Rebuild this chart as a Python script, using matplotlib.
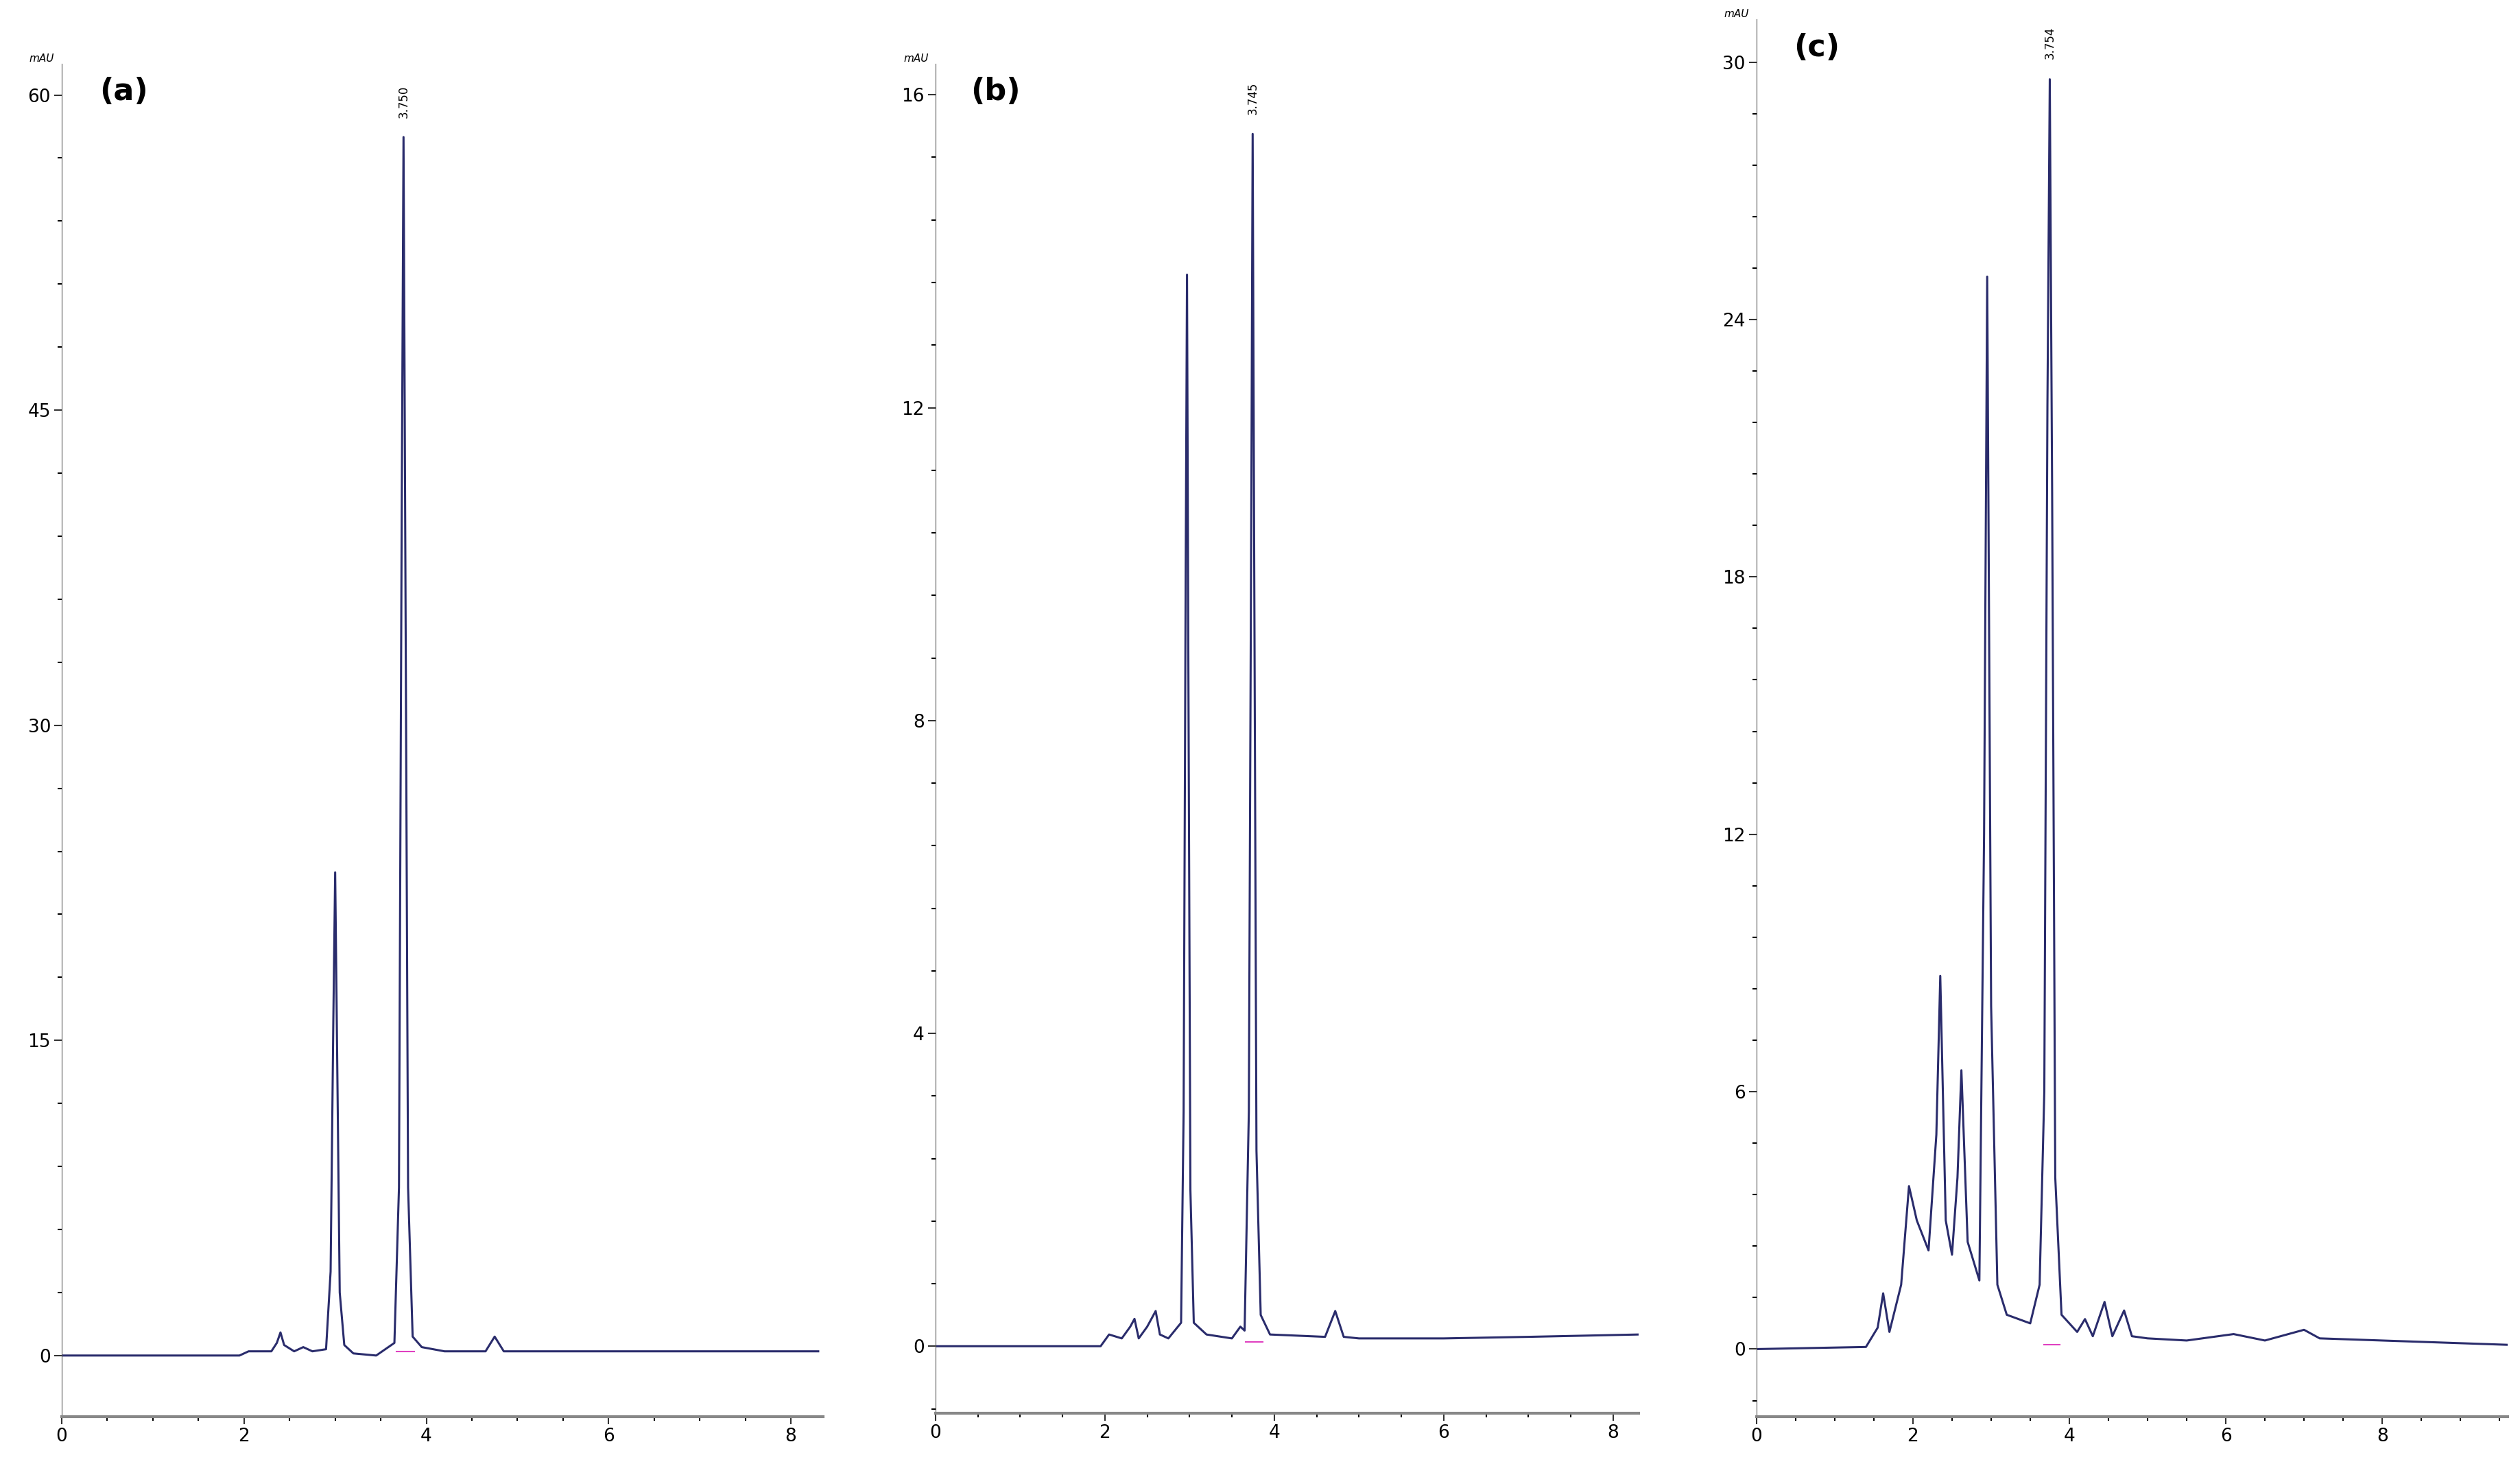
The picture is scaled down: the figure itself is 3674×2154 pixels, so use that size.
import matplotlib.pyplot as plt
from matplotlib.ticker import MultipleLocator

# panel (a)
t_a = [0, 1.95, 2.05, 2.3, 2.36, 2.4, 2.44, 2.55, 2.65, 2.75, 2.9, 2.95, 2.98, 3.0, 3.02, 3.05, 3.1,
       3.2, 3.45, 3.65, 3.7, 3.73, 3.75, 3.77, 3.8, 3.85, 3.95, 4.2, 4.65, 4.75, 4.85, 5.0, 8.3]
y_a = [0, 0, 0.2, 0.2, 0.6, 1.1, 0.5, 0.2, 0.4, 0.2, 0.3, 4, 16, 23, 15, 3, 0.5,
       0.1, 0, 0.6, 8, 40, 58, 38, 8, 0.9, 0.4, 0.2, 0.2, 0.9, 0.2, 0.2, 0.2]
# panel (b)
t_b = [0, 1.95, 2.05, 2.2, 2.3, 2.35, 2.4, 2.5, 2.6, 2.65, 2.75, 2.9, 2.93, 2.955, 2.97, 2.985, 3.01,
       3.05, 3.2, 3.5, 3.6, 3.65, 3.7, 3.73, 3.745, 3.76, 3.79, 3.84, 3.95, 4.6, 4.72, 4.82, 5.0, 6.0,
       7.0, 8.3]
y_b = [0, 0, 0.15, 0.1, 0.25, 0.35, 0.1, 0.25, 0.45, 0.15, 0.1, 0.3, 3, 10, 13.7, 9, 2,
       0.3, 0.15, 0.1, 0.25, 0.2, 3, 11, 15.5, 11, 2.5, 0.4, 0.15, 0.12, 0.45, 0.12, 0.1, 0.1,
       0.12, 0.15]
# panel (c)
t_c = [0, 1.4, 1.55, 1.62, 1.7, 1.85, 1.95, 2.05, 2.2, 2.3, 2.35, 2.42, 2.5, 2.57, 2.62, 2.7, 2.85,
       2.91, 2.95, 3.0, 3.08, 3.2, 3.35, 3.5, 3.62, 3.68, 3.72, 3.75, 3.78, 3.82, 3.9, 4.1, 4.2, 4.3,
       4.45, 4.55, 4.7, 4.8, 5.0, 5.5, 6.1, 6.5, 7.0, 7.2, 8.0, 9.6]
y_c = [0, 0.05, 0.5, 1.3, 0.4, 1.5, 3.8, 3.0, 2.3, 5, 8.7, 3, 2.2, 4, 6.5, 2.5, 1.6,
       12, 25, 8, 1.5, 0.8, 0.7, 0.6, 1.5, 6, 22, 29.6, 20, 4, 0.8, 0.4, 0.7, 0.3,
       1.1, 0.3, 0.9, 0.3, 0.25, 0.2, 0.35, 0.2, 0.45, 0.25, 0.2, 0.1]

panels = [
    dict(t=t_a, y=y_a, lab='(a)', rt='3.750', peak=3.75, ymin=-2.9, ymax=61.5, xmax=8.35,
         yt=[0, 15, 30, 45, 60], ymin_step=3, pos=[0.0245, 0.041, 0.302, 0.916]),
    dict(t=t_b, y=y_b, lab='(b)', rt='3.745', peak=3.745, ymin=-0.86, ymax=16.4, xmax=8.3,
         yt=[0, 4, 8, 12, 16], ymin_step=0.8, pos=[0.3712, 0.043, 0.279, 0.914]),
    dict(t=t_c, y=y_c, lab='(c)', rt='3.754', peak=3.754, ymin=-1.57, ymax=31.0, xmax=9.6,
         yt=[0, 6, 12, 18, 24, 30], ymin_step=1.2, pos=[0.697, 0.041, 0.298, 0.946]),
]

fig = plt.figure(figsize=(36.74, 21.54), dpi=100)
for p in panels:
    ax = fig.add_axes(p['pos'])
    ax.plot(p['t'], p['y'], color='#2a2c6c', lw=2.2)
    ax.plot([p['peak'] - 0.08, p['peak'] + 0.12], [0.2 * p['ymax'] / 60] * 2, color='#e040c0', lw=1.5)
    ax.set_xlim(0, p['xmax'])
    ax.set_ylim(p['ymin'], p['ymax'])
    ax.set_yticks(p['yt'])
    ax.yaxis.set_minor_locator(MultipleLocator(p['ymin_step']))
    ax.set_xticks([0, 2, 4, 6, 8])
    ax.xaxis.set_minor_locator(MultipleLocator(0.5))
    for s in ['top', 'right']:
        ax.spines[s].set_visible(False)
    ax.spines['left'].set_color('#555555')
    ax.spines['bottom'].set_color('#888888')
    ax.spines['bottom'].set_linewidth(3)
    ax.tick_params(labelsize=19, length=8, width=1.5, color='#333333')
    ax.tick_params(which='minor', length=4, width=1.5)
    ax.text(0.05, 0.99, p['lab'], transform=ax.transAxes, fontsize=32, fontweight='bold', va='top')
    ax.text(-0.01, 1.0, 'mAU', transform=ax.transAxes, fontsize=11, ha='right', va='bottom',
            style='italic')
    ax.text(p['peak'], max(p['y']) + 0.015 * p['ymax'], p['rt'], rotation=90, fontsize=12,
            ha='center', va='bottom')

fig.savefig('out.png', dpi=100, facecolor='white')
